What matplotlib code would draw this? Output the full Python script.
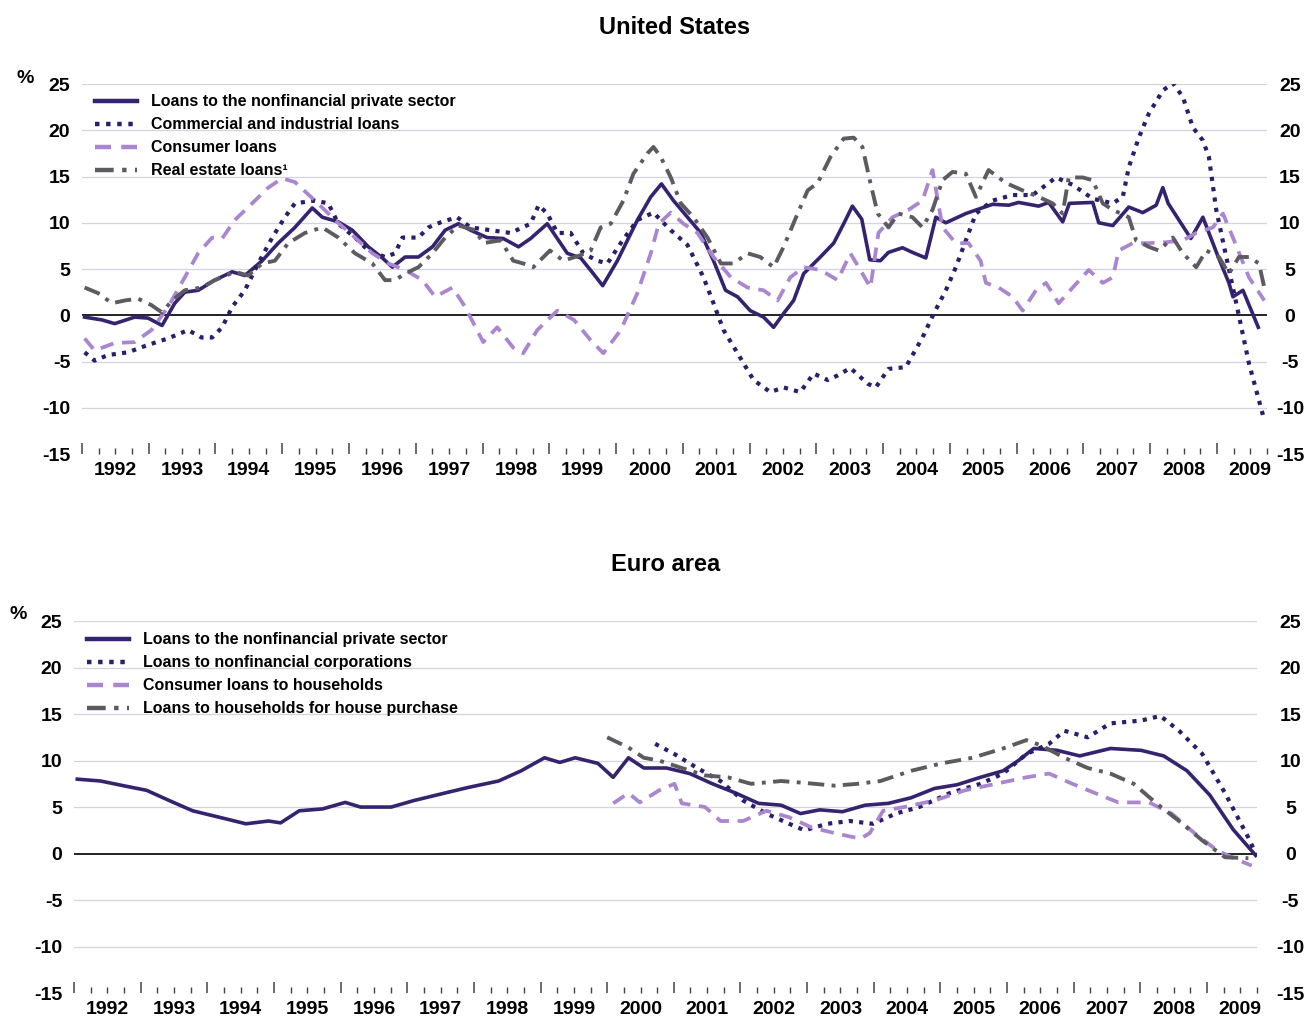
import numpy as np
import matplotlib
matplotlib.use("Agg")
import matplotlib.pyplot as plt
from matplotlib.ticker import FixedLocator

plt.rcParams['font.family'] = ['Liberation Sans', 'DejaVu Sans']
plt.rcParams['axes.unicode_minus'] = False

# ---------------- United States ----------------
us_nfps_t = [1992.04, 1992.30, 1992.49, 1992.79, 1992.99, 1993.20, 1993.39, 1993.54, 1993.74, 1993.99,
             1994.25, 1994.44, 1994.70, 1994.94, 1995.19, 1995.45, 1995.60, 1995.84, 1996.05, 1996.29,
             1996.50, 1996.65, 1996.84, 1997.04, 1997.25, 1997.44, 1997.64, 1997.82, 1998.07, 1998.31,
             1998.54, 1998.72, 1998.97, 1999.27, 1999.47, 1999.66, 1999.80, 2000.02, 2000.32, 2000.52,
             2000.68, 2000.86, 2001.27, 2001.46, 2001.64, 2001.82, 2002.01, 2002.21, 2002.36, 2002.51,
             2002.66, 2002.81, 2003.06, 2003.26, 2003.41, 2003.54, 2003.68, 2003.80, 2003.96, 2004.08,
             2004.29, 2004.44, 2004.64, 2004.79, 2004.94, 2005.24, 2005.64, 2005.88, 2006.03, 2006.33,
             2006.48, 2006.69, 2006.79, 2007.14, 2007.23, 2007.44, 2007.68, 2007.89, 2008.09, 2008.19,
             2008.27, 2008.61, 2008.79, 2009.02, 2009.18, 2009.24, 2009.39, 2009.62]
us_nfps = [-0.2, -0.5, -0.9, -0.2, -0.3, -1.1, 1.3, 2.5, 2.7, 3.8,
           4.7, 4.3, 5.9, 7.8, 9.5, 11.6, 10.6, 10.1, 9.2, 7.4,
           6.2, 5.2, 6.3, 6.3, 7.4, 9.2, 9.9, 9.2, 8.4, 8.3,
           7.4, 8.3, 9.9, 6.7, 6.2, 4.5, 3.2, 5.9, 10.3, 12.8,
           14.2, 12.4, 8.9, 5.9, 2.7, 2.0, 0.5, -0.2, -1.3, 0.2,
           1.6, 4.5, 6.3, 7.8, 9.9, 11.8, 10.4, 6.0, 5.9, 6.8,
           7.3, 6.8, 6.2, 10.6, 10.0, 11.0, 12.0, 11.9, 12.2, 11.8,
           12.2, 10.1, 12.1, 12.2, 10.0, 9.7, 11.7, 11.1, 11.9, 13.8,
           12.1, 8.3, 10.6, 6.3, 3.5, 2.0, 2.7, -1.3]

us_ci_t = [1992.04, 1992.19, 1992.39, 1992.69, 1992.99, 1993.29, 1993.59, 1993.79, 1993.95, 1994.10,
           1994.25, 1994.44, 1994.64, 1994.85, 1995.04, 1995.19, 1995.49, 1995.69, 1995.84, 1996.09,
           1996.29, 1996.54, 1996.69, 1996.80, 1997.04, 1997.19, 1997.39, 1997.62, 1997.82, 1998.12,
           1998.42, 1998.72, 1998.84, 1998.97, 1999.12, 1999.32, 1999.51, 1999.72, 1999.87, 2000.07,
           2000.32, 2000.56, 2000.82, 2001.07, 2001.31, 2001.46, 2001.61, 2001.82, 2002.06, 2002.31,
           2002.51, 2002.76, 2002.96, 2003.17, 2003.32, 2003.51, 2003.77, 2003.89, 2004.08, 2004.34,
           2004.59, 2004.76, 2004.94, 2005.09, 2005.24, 2005.39, 2005.64, 2005.94, 2006.24, 2006.59,
           2006.84, 2007.14, 2007.44, 2007.59, 2007.68, 2007.83, 2007.98, 2008.19, 2008.34, 2008.49,
           2008.64, 2008.79, 2008.88, 2008.99, 2009.14, 2009.29, 2009.48, 2009.69]
us_ci = [-4.0, -4.9, -4.3, -4.0, -3.2, -2.5, -1.6, -2.4, -2.4, -1.3,
         0.9, 2.7, 5.6, 8.4, 10.6, 12.1, 12.4, 12.1, 9.9, 8.4,
         7.0, 6.3, 6.7, 8.4, 8.4, 9.5, 10.1, 10.6, 9.5, 9.2,
         8.9, 9.9, 11.9, 11.0, 8.9, 8.9, 6.7, 5.9, 5.6, 7.8,
         10.3, 11.1, 9.2, 7.6, 4.1, 1.3, -1.6, -4.1, -7.0, -8.3,
         -7.8, -8.3, -6.3, -7.0, -6.5, -5.7, -7.4, -7.8, -5.8, -5.6,
         -2.4, 0.2, 2.7, 5.2, 8.1, 11.0, 12.4, 13.0, 13.0, 14.9,
         14.1, 12.6, 12.1, 12.8, 16.0, 19.2, 21.8, 24.3, 25.1, 23.6,
         20.3, 18.9, 17.1, 11.4, 6.3, 1.3, -5.2, -10.8]

us_cons_t = [1992.04, 1992.19, 1992.49, 1992.79, 1993.04, 1993.29, 1993.54, 1993.74, 1993.95, 1994.10,
             1994.29, 1994.55, 1994.79, 1995.00, 1995.19, 1995.49, 1995.79, 1996.09, 1996.35, 1996.59,
             1996.84, 1997.10, 1997.29, 1997.55, 1997.74, 1998.01, 1998.22, 1998.46, 1998.61, 1998.82,
             1999.12, 1999.37, 1999.62, 1999.81, 2000.07, 2000.32, 2000.52, 2000.64, 2000.82, 2001.01,
             2001.22, 2001.46, 2001.72, 2001.97, 2002.21, 2002.42, 2002.61, 2002.81, 2003.06, 2003.32,
             2003.51, 2003.66, 2003.81, 2003.93, 2004.14, 2004.38, 2004.59, 2004.74, 2004.89, 2005.09,
             2005.28, 2005.46, 2005.54, 2005.73, 2005.94, 2006.09, 2006.29, 2006.44, 2006.63, 2006.84,
             2007.08, 2007.29, 2007.44, 2007.53, 2007.74, 2007.98, 2008.24, 2008.49, 2008.69, 2008.94,
             2009.09, 2009.24, 2009.48, 2009.71]
us_cons = [-2.5, -3.8, -3.0, -2.9, -1.6, 0.9, 4.1, 6.7, 8.4, 8.3,
           10.3, 12.1, 13.8, 14.8, 14.4, 12.4, 10.3, 8.4, 6.7, 5.6,
           4.9, 3.8, 2.0, 3.0, 0.9, -2.9, -1.3, -3.5, -4.1, -1.6,
           0.5, -0.5, -2.7, -4.1, -1.6, 2.4, 6.7, 9.9, 11.1, 9.9,
           8.9, 6.3, 4.1, 3.0, 2.7, 1.6, 4.1, 5.2, 4.9, 3.8,
           6.7, 4.9, 3.0, 8.9, 10.6, 11.4, 12.4, 15.7, 9.5, 7.8,
           7.8, 5.9, 3.5, 3.0, 2.0, 0.5, 2.7, 3.5, 1.3, 3.0,
           4.9, 3.5, 4.1, 7.0, 7.8, 7.8, 7.9, 8.1, 8.9, 9.5,
           11.0, 8.4, 4.1, 1.6]

us_re_t = [1992.04, 1992.24, 1992.45, 1992.64, 1992.84, 1993.04, 1993.20, 1993.35, 1993.54, 1993.79,
           1993.99, 1994.29, 1994.49, 1994.70, 1994.89, 1995.09, 1995.34, 1995.60, 1995.84, 1996.09,
           1996.35, 1996.54, 1996.69, 1996.84, 1997.04, 1997.25, 1997.44, 1997.64, 1997.89, 1998.01,
           1998.27, 1998.46, 1998.61, 1998.76, 1999.01, 1999.21, 1999.47, 1999.62, 1999.77, 1999.92,
           2000.11, 2000.26, 2000.47, 2000.56, 2000.67, 2000.82, 2000.97, 2001.16, 2001.37, 2001.57,
           2001.76, 2001.97, 2002.16, 2002.36, 2002.51, 2002.72, 2002.87, 2003.02, 2003.21, 2003.41,
           2003.56, 2003.69, 2003.81, 2003.92, 2004.08, 2004.23, 2004.44, 2004.59, 2004.74, 2004.89,
           2005.04, 2005.24, 2005.39, 2005.58, 2005.84, 2006.09, 2006.33, 2006.54, 2006.69, 2006.78,
           2006.99, 2007.14, 2007.29, 2007.44, 2007.68, 2007.79, 2007.98, 2008.13, 2008.34, 2008.49,
           2008.69, 2008.84, 2009.03, 2009.18, 2009.33, 2009.48, 2009.63, 2009.71]
us_re = [3.0, 2.4, 1.3, 1.6, 1.8, 1.1, 0.3, 1.6, 2.7, 3.0,
         3.8, 4.7, 4.3, 5.6, 5.9, 7.8, 8.9, 9.5, 8.4, 6.7,
         5.6, 3.8, 3.8, 4.5, 5.2, 6.7, 8.4, 9.7, 9.2, 7.8,
         8.1, 5.9, 5.6, 5.2, 7.0, 5.9, 6.5, 7.0, 9.5, 9.9,
         12.4, 15.3, 17.5, 18.2, 17.1, 14.9, 12.1, 10.6, 8.4, 5.6,
         5.6, 6.7, 6.3, 5.2, 7.4, 11.0, 13.5, 14.3, 17.1, 19.1,
         19.2, 18.2, 14.3, 11.0, 9.5, 11.0, 10.6, 9.5, 11.4, 14.6,
         15.5, 15.3, 12.8, 15.7, 14.3, 13.5, 12.8, 12.1, 11.0, 14.9,
         14.9, 14.6, 12.1, 11.4, 10.6, 8.1, 7.4, 7.0, 8.4, 6.7,
         5.2, 7.0, 6.3, 4.5, 6.3, 6.3, 5.6, 3.0]

# ---------------- Euro area ----------------
ea_nfps_t = [1992.05, 1992.40, 1992.74, 1993.09, 1993.43, 1993.78, 1994.24, 1994.58, 1994.92, 1995.10,
             1995.38, 1995.73, 1996.07, 1996.30, 1996.76, 1997.10, 1997.56, 1997.91, 1998.37, 1998.71,
             1999.06, 1999.29, 1999.52, 1999.86, 2000.09, 2000.32, 2000.55, 2000.89, 2001.24, 2001.58,
             2001.93, 2002.27, 2002.61, 2002.90, 2003.19, 2003.53, 2003.87, 2004.22, 2004.56, 2004.91,
             2005.25, 2005.60, 2005.94, 2006.17, 2006.40, 2006.75, 2007.09, 2007.55, 2008.01, 2008.35,
             2008.70, 2009.04, 2009.39, 2009.73]
ea_nfps = [8.0, 7.8, 7.3, 6.8, 5.7, 4.6, 3.8, 3.2, 3.5, 3.3,
           4.6, 4.8, 5.5, 5.0, 5.0, 5.7, 6.5, 7.1, 7.8, 8.9,
           10.3, 9.8, 10.3, 9.7, 8.2, 10.3, 9.2, 9.2, 8.6, 7.5,
           6.5, 5.4, 5.2, 4.3, 4.7, 4.5, 5.2, 5.4, 6.0, 7.0,
           7.4, 8.2, 8.9, 10.0, 11.3, 11.1, 10.5, 11.3, 11.1, 10.5,
           8.9, 6.3, 2.6, -0.2]

ea_nfc_t = [2000.72, 2001.01, 2001.35, 2001.70, 2002.04, 2002.39, 2002.73, 2002.96, 2003.30, 2003.64,
            2003.99, 2004.33, 2004.68, 2005.14, 2005.60, 2005.94, 2006.29, 2006.63, 2006.86, 2007.21,
            2007.55, 2008.01, 2008.30, 2008.58, 2008.93, 2009.27, 2009.62, 2009.75]
ea_nfc = [11.8, 10.7, 9.2, 7.8, 5.7, 4.3, 3.2, 2.5, 3.2, 3.5,
          3.2, 4.3, 5.0, 6.5, 7.5, 8.6, 10.7, 11.8, 13.2, 12.5,
          14.0, 14.3, 14.8, 13.2, 10.7, 6.5, 1.7, -0.3]

ea_cons_t = [2000.09, 2000.32, 2000.49, 2000.78, 2001.01, 2001.12, 2001.47, 2001.70, 2002.04, 2002.39,
             2002.73, 2003.07, 2003.41, 2003.80, 2003.94, 2004.14, 2004.45, 2004.91, 2005.37, 2005.83,
             2006.29, 2006.63, 2006.98, 2007.32, 2007.67, 2008.13, 2008.47, 2008.81, 2009.16, 2009.50,
             2009.67]
ea_cons = [5.4, 6.5, 5.5, 6.8, 7.5, 5.4, 5.0, 3.5, 3.5, 4.6,
           3.9, 2.8, 2.2, 1.6, 2.2, 4.6, 5.0, 5.7, 6.8, 7.5,
           8.2, 8.6, 7.5, 6.5, 5.5, 5.5, 4.3, 2.2, 0.3, -0.8,
           -1.3]

ea_house_t = [2000.00, 2000.32, 2000.55, 2000.78, 2001.12, 2001.47, 2001.81, 2002.16, 2002.61, 2002.96,
              2003.41, 2003.76, 2004.10, 2004.56, 2005.02, 2005.48, 2005.94, 2006.29, 2006.52, 2006.86,
              2007.21, 2007.55, 2007.90, 2008.24, 2008.58, 2008.93, 2009.27, 2009.62]
ea_house = [12.5, 11.4, 10.3, 10.0, 9.2, 8.4, 8.2, 7.5, 7.8, 7.6,
            7.3, 7.5, 7.8, 8.9, 9.7, 10.3, 11.3, 12.2, 11.6, 10.3,
            9.2, 8.6, 7.5, 5.4, 3.5, 1.4, -0.4, -0.5]

years = list(range(1992, 2010))
yticks = [-15, -10, -5, 0, 5, 10, 15, 20, 25]

us_labels = ["Loans to the nonfinancial private sector", "Commercial and industrial loans",
             "Consumer loans", "Real estate loans¹"]
ea_labels = ["Loans to the nonfinancial private sector", "Loans to nonfinancial corporations",
             "Consumer loans to households", "Loans to households for house purchase"]

c_solid = "#36236f"
c_dot = "#2c1e6a"
c_dash = "#a986cf"
c_dd = "#5e5a62"

styles = [
    dict(color=c_solid, lw=2.6, ls="-"),
    dict(color=c_dot, lw=3.0, ls=(0, (1, 1.5))),
    dict(color=c_dash, lw=2.7, ls=(0, (3.6, 2.3))),
    dict(color=c_dd, lw=2.8, ls=(0, (4.2, 1.9, 1, 1.9))),
]

fig = plt.figure(figsize=(13.09, 10.16), dpi=100)


def panel(rect, title, title_y, pct_xy, series, labels, legend_anchor, right_pad):
    ax = fig.add_axes(rect)
    for (t, v), st, lab in zip(series, styles, labels):
        ax.plot(t, v, label=lab, **st)
    ax.set_xlim(1992, 2009.75)
    ax.set_ylim(-15, 25)
    for g in [-10, -5, 5, 10, 15, 20, 25]:
        ax.axhline(g, color="#d4d3e2", lw=0.9, zorder=0)
    ax.axhline(0, color="#111111", lw=1.3, zorder=1)
    for s in ax.spines.values():
        s.set_visible(False)

    ax.xaxis.set_major_locator(FixedLocator(years))
    ax.xaxis.set_minor_locator(FixedLocator([y + q for y in years for q in (0.25, 0.5, 0.75)]))
    ax.tick_params(axis="x", which="major", direction="in", length=8, width=1.1,
                   color="#444444", labelbottom=False)
    ax.tick_params(axis="x", which="minor", direction="in", length=4, width=1.0, color="#444444")

    sec = ax.secondary_xaxis("bottom")
    sec.set_xticks([y + 0.5 for y in years], [str(y) for y in years])
    sec.tick_params(length=0, pad=6, labelsize=14)
    for lab in sec.get_xticklabels():
        lab.set_fontweight("bold")
    sec.spines["bottom"].set_visible(False)

    ax.set_yticks(yticks)
    ax.tick_params(axis="y", length=0, pad=8.5, labelsize=14)
    for lab in ax.get_yticklabels():
        lab.set_fontweight("bold")

    axr = ax.twinx()
    axr.set_ylim(-15, 25)
    axr.set_yticks(yticks)
    axr.tick_params(axis="y", length=0, pad=right_pad, labelsize=14)
    for lab in axr.get_yticklabels():
        lab.set_fontweight("bold")
        lab.set_horizontalalignment("center")
    for s in axr.spines.values():
        s.set_visible(False)

    leg = ax.legend(loc="upper left", bbox_to_anchor=legend_anchor, frameon=False,
                    prop=dict(size=11.5, weight="bold"), handlelength=2.6,
                    handletextpad=0.9, labelspacing=0.5, borderpad=0, borderaxespad=0)
    for line in leg.get_lines():
        line.set_linewidth(3.2)

    fig.text(rect[0] + rect[2] / 2, title_y, title, ha="center", va="center",
             fontsize=17, fontweight="bold")
    fig.text(pct_xy[0], pct_xy[1], "%", ha="center", va="center", fontsize=14, fontweight="bold")
    return ax


panel([0.0626, 0.5531, 0.9053, 0.3642], "United States", 0.9734, (0.019, 0.923),
      [(us_nfps_t, us_nfps), (us_ci_t, us_ci), (us_cons_t, us_cons), (us_re_t, us_re)],
      us_labels, (0.011, 0.972), 16.5)

panel([0.0565, 0.0226, 0.9038, 0.3661], "Euro area", 0.4439, (0.0138, 0.395),
      [(ea_nfps_t, ea_nfps), (ea_nfc_t, ea_nfc), (ea_cons_t, ea_cons), (ea_house_t, ea_house)],
      ea_labels, (0.011, 0.97), 24)

fig.savefig("out.png", dpi=100, facecolor="white")
